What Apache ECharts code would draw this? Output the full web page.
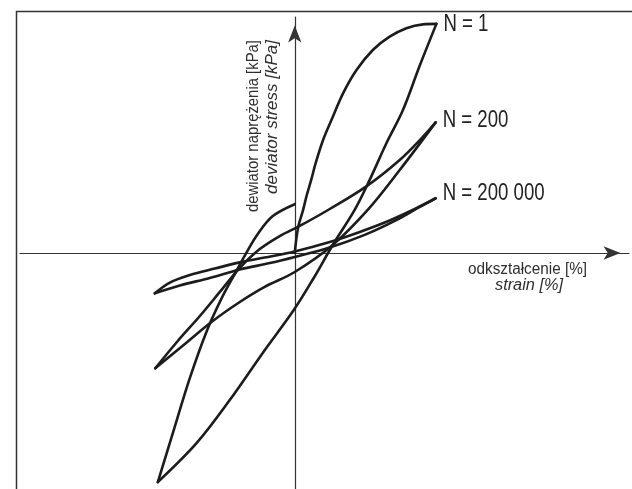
<!DOCTYPE html>
<html>
<head>
<meta charset="utf-8">
<script src="https://cdn.jsdelivr.net/npm/echarts@6/dist/echarts.min.js"></script>
<style>
  html, body { margin: 0; padding: 0; background: #fff; }
  #chart { width: 632px; height: 489px; }
</style>
</head>
<body>
<div id="chart"></div>
<script>
// Hysteresis loops of deviator stress vs. strain for successive load cycles.
// Values are [strain, stress], normalised to the peak strain / peak stress of the first cycle.

const cycleLabels = ['N = 1', 'N = 200', 'N = 200 000'];
const xTitle = ['odkształcenie [%]', 'strain [%]'];
const yTitle = ['dewiator naprężenia [kPa]', 'deviator stress [kPa]'];

// N = 1: first loading from rest, unloading, reloading up to zero strain
const n1Loading = [
  [0, 0], [0.023, 0.109], [0.059, 0.188], [0.085, 0.253], [0.116, 0.319],
  [0.148, 0.393], [0.200, 0.493], [0.259, 0.580], [0.341, 0.697], [0.436, 0.799],
  [0.553, 0.887], [0.670, 0.944], [0.788, 0.981], [0.905, 0.998], [1.0, 1.0]
];
const n1Unloading = [
  [1.0, 1.0], [0.882, 0.817], [0.764, 0.624], [0.647, 0.479], [0.529, 0.319],
  [0.423, 0.188], [0.268, 0.035], [0.134, -0.109], [-0.007, -0.249], [-0.226, -0.436],
  [-0.459, -0.642], [-0.692, -0.829], [-0.967, -1.0]
];
const n1Reloading = [
  [-0.967, -1.0], [-0.861, -0.786], [-0.741, -0.546], [-0.621, -0.340], [-0.515, -0.196],
  [-0.416, -0.083], [-0.339, 0.004], [-0.261, 0.083], [-0.155, 0.161], [0, 0.213]
];

// N = 200
const n200Upper = [
  [-0.985, -0.503], [-0.826, -0.384], [-0.670, -0.275], [-0.529, -0.170], [-0.388, -0.065],
  [-0.247, 0.017], [-0.106, 0.074], [0.035, 0.118], [0.247, 0.192], [0.508, 0.292],
  [0.741, 0.406], [0.903, 0.506], [0.995, 0.570]
];
const n200Lower = [
  [-0.985, -0.503], [-0.776, -0.397], [-0.579, -0.297], [-0.388, -0.214], [-0.212, -0.148],
  [0, -0.083], [0.268, 0.035], [0.515, 0.188], [0.741, 0.362], [0.995, 0.570]
];

// N = 200 000
const n200kUpper = [
  [-0.988, -0.176], [-0.882, -0.129], [-0.741, -0.096], [-0.565, -0.068], [-0.388, -0.041],
  [-0.212, -0.020], [0, 0.007], [0.247, 0.048], [0.459, 0.092], [0.670, 0.142],
  [0.847, 0.192], [0.995, 0.239]
];
const n200kLower = [
  [-0.988, -0.176], [-0.812, -0.142], [-0.600, -0.109], [-0.388, -0.072], [-0.176, -0.044],
  [0, -0.017], [0.247, 0.024], [0.494, 0.079], [0.706, 0.140], [0.882, 0.201],
  [0.995, 0.239]
];

// Loop tips that carry the cycle labels
const labelTips = [n1Loading[n1Loading.length - 1], n200Upper[n200Upper.length - 1], n200kUpper[n200kUpper.length - 1]];

const SANS = '"Liberation Sans", Arial, sans-serif';
const INK = '#1c1c1c';
const AXIS = '#333333';
const TEXT = '#2e2e2e';

// Condensed look: measure the regular face and squeeze it horizontally to the wanted run length
const measureCtx = document.createElement('canvas').getContext('2d');
function squeeze(text, font, width) {
  measureCtx.font = font;
  return width / measureCtx.measureText(text).width;
}

function branch(data) {
  return {
    type: 'line',
    data: data,
    smooth: 0.35,
    symbol: 'none',
    clip: false,
    silent: true,
    lineStyle: { color: INK, width: 2.6, cap: 'round', join: 'round' }
  };
}

const axisCommon = {
  type: 'value',
  axisLine: {
    onZero: true,
    symbol: ['none', 'arrow'],
    symbolSize: [10, 17],
    symbolOffset: [0, -8.5],
    lineStyle: { color: AXIS, width: 1.2 }
  },
  axisTick: { show: false },
  axisLabel: { show: false },
  splitLine: { show: false }
};

const chart = echarts.init(document.getElementById('chart'), null, { renderer: 'canvas' });

chart.setOption({
  animation: false,
  backgroundColor: '#fff',
  grid: { left: 20, right: 3, top: 17, bottom: 0, containLabel: false },
  xAxis: Object.assign({}, axisCommon, { min: -1.94, max: 2.36 }),
  yAxis: Object.assign({}, axisCommon, { min: -1.03, max: 1.03 }),
  series: [
    branch(n1Loading),
    branch(n1Unloading),
    branch(n1Reloading),
    branch(n200Upper),
    branch(n200Lower),
    branch(n200kUpper),
    branch(n200kLower)
  ]
});

// Cycle labels sit just right of each loop's upper tip
const labelFont = '23px ' + SANS;
const labelScale = squeeze(cycleLabels[2], labelFont, 102);
const labelShift = [[7, 0.5], [7, -1.5], [7, -4.5]];
const cycleTexts = labelTips.map(function (tip, i) {
  const p = chart.convertToPixel({ gridIndex: 0 }, tip);
  return {
    type: 'text', silent: true,
    x: p[0] + labelShift[i][0], y: p[1] + labelShift[i][1],
    scaleX: labelScale,
    style: { text: cycleLabels[i], font: labelFont, fill: '#222', textAlign: 'left', textVerticalAlign: 'middle' }
  };
});

const titleFont = '16px ' + SANS;
const titleFontIt = 'italic 16px ' + SANS;

chart.setOption({
  graphic: [
    {
      type: 'rect',
      silent: true,
      shape: { x: 16.5, y: 11.5, width: 800, height: 800 },
      style: { fill: 'none', stroke: '#333', lineWidth: 1.5 },
      z: -1
    },
    {
      type: 'text', silent: true, x: 527.5, y: 270,
      scaleX: squeeze(xTitle[0], titleFont, 119),
      style: { text: xTitle[0], font: titleFont, fill: TEXT, textAlign: 'center', textVerticalAlign: 'middle' }
    },
    {
      type: 'text', silent: true, x: 529, y: 286,
      scaleX: squeeze(xTitle[1], titleFontIt, 68),
      style: { text: xTitle[1], font: titleFontIt, fill: TEXT, textAlign: 'center', textVerticalAlign: 'middle' }
    },
    {
      type: 'text', silent: true, x: 254, y: 40, rotation: Math.PI / 2,
      scaleX: squeeze(yTitle[0], titleFont, 172),
      style: { text: yTitle[0], font: titleFont, fill: TEXT, textAlign: 'right', textVerticalAlign: 'middle' }
    },
    {
      type: 'text', silent: true, x: 272.5, y: 40, rotation: Math.PI / 2,
      scaleX: squeeze(yTitle[1], titleFontIt, 154),
      style: { text: yTitle[1], font: titleFontIt, fill: TEXT, textAlign: 'right', textVerticalAlign: 'middle' }
    }
  ].concat(cycleTexts)
});
</script>
</body>
</html>
